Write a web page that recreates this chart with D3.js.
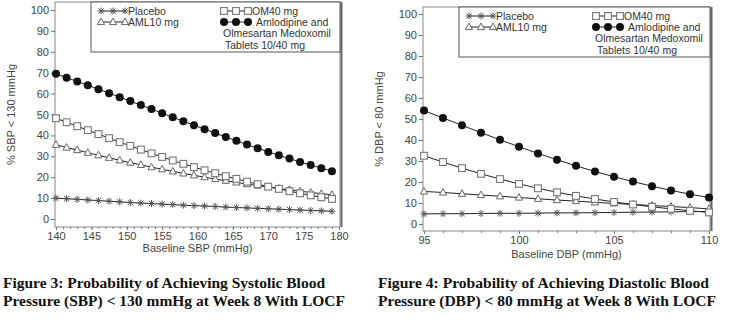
<!DOCTYPE html>
<meta charset="utf-8">
<style>
body { margin: 0; background: #fff; }
svg text { font-family: Arial, "Liberation Sans", sans-serif; }
.tick text { fill: #444; font-size: 11px; }
.axis path, .axis line { stroke: #777; }
.caption { font-family: "Liberation Serif", "Times New Roman", serif !important; font-weight: bold; font-size: 15px; fill: #111; }
</style>
<body>
<svg width="752" height="335"></svg>
<script src="https://d3js.org/d3.v7.min.js"></script>
<script>

// systolic panel: baseline SBP every 1.5 mmHg
var sbpX = d3.range(27).map(function(i) { return 140 + i * 1.5; });
var sbpPlacebo = [10.0, 9.7, 9.4, 9.1, 8.8, 8.5, 8.2, 7.9, 7.6, 7.4, 7.1, 6.9, 6.6, 6.4, 6.2, 6.0, 5.7, 5.5, 5.3, 5.1, 4.9, 4.7, 4.5, 4.3, 4.1, 3.9, 3.7];
var sbpOM40 = [48.2, 46.3, 44.4, 42.5, 40.6, 38.7, 36.8, 35.0, 33.2, 31.4, 29.7, 28.0, 26.4, 24.8, 23.3, 21.9, 20.5, 19.2, 17.9, 16.7, 15.5, 14.4, 13.3, 12.3, 11.3, 10.4, 9.6];
var sbpAML10 = [35.5, 34.2, 33.0, 31.7, 30.5, 29.3, 28.1, 27.0, 25.9, 24.8, 23.8, 22.8, 21.8, 20.9, 20.0, 19.1, 18.3, 17.5, 16.7, 16.0, 15.3, 14.6, 14.0, 13.3, 12.7, 12.1, 11.6];
var sbpCombo = [69.5, 67.6, 65.8, 64.0, 62.1, 60.2, 58.3, 56.4, 54.5, 52.6, 50.6, 48.7, 46.8, 44.9, 43.0, 41.1, 39.2, 37.4, 35.6, 33.9, 32.1, 30.5, 28.9, 27.3, 25.8, 24.3, 22.9];
var sbpTicks = [140, 145, 150, 155, 160, 165, 170, 175, 180];

// diastolic panel: baseline DBP every 1 mmHg
var dbpX = d3.range(95, 111);
var dbpPlacebo = [4.8, 4.9, 4.9, 5.0, 5.1, 5.1, 5.2, 5.3, 5.3, 5.4, 5.5, 5.6, 5.7, 5.8, 5.9, 6.0];
var dbpOM40 = [32.5, 29.5, 26.6, 23.9, 21.4, 19.1, 17.0, 15.1, 13.4, 11.9, 10.5, 9.3, 8.2, 7.2, 6.3, 5.5];
var dbpAML10 = [15.5, 15.0, 14.4, 13.8, 13.2, 12.6, 12.0, 11.4, 10.9, 10.3, 9.8, 9.3, 8.8, 8.3, 7.8, 7.2];
var dbpCombo = [54.0, 50.5, 47.0, 43.5, 40.1, 36.8, 33.6, 30.6, 27.7, 25.0, 22.5, 20.2, 18.0, 16.0, 14.2, 12.6];
var dbpTicks = [95, 100, 105, 110];

var yTicks = d3.range(0, 101, 10);

var svg = d3.select("svg");

function marker(g, type, x, y) {
  if (type == "circle") {
    g.append("circle").attr("cx", x).attr("cy", y).attr("r", 4).attr("fill", "#111");
  } else if (type == "square") {
    g.append("rect").attr("x", x - 3.4).attr("y", y - 3.4).attr("width", 6.8).attr("height", 6.8)
        .attr("fill", "#fff").attr("stroke", "#777").attr("stroke-width", 1.1);
  } else if (type == "triangle") {
    g.append("path").attr("d", "M" + x + "," + (y - 4) + "L" + (x + 3.6) + "," + (y + 2.6) + "L" + (x - 3.6) + "," + (y + 2.6) + "Z")
        .attr("fill", "#fff").attr("stroke", "#666").attr("stroke-width", 1);
  } else {
    g.append("path").attr("d", "M" + (x - 3.5) + "," + y + "H" + (x + 3.5) +
        "M" + x + "," + (y - 3.5) + "V" + (y + 3.5) +
        "M" + (x - 2.6) + "," + (y - 2.6) + "L" + (x + 2.6) + "," + (y + 2.6) +
        "M" + (x - 2.6) + "," + (y + 2.6) + "L" + (x + 2.6) + "," + (y - 2.6))
        .attr("stroke", "#555").attr("stroke-width", 1);
  }
}

function panel(p) {
  var x = d3.scaleLinear().domain(p.xDomain).range([p.left + 1, p.right - 1]);
  var y = d3.scaleLinear().domain([0, 100]).range([p.y0, p.y100]);
  var g = svg.append("g");

  // frame with a shadow on the right
  g.append("rect").attr("x", p.left).attr("y", p.top).attr("width", p.right - p.left).attr("height", p.bottom - p.top)
      .attr("fill", "none").attr("stroke", "#888");
  g.append("line").attr("x1", p.right + 1.5).attr("x2", p.right + 1.5).attr("y1", p.top).attr("y2", p.bottom)
      .attr("stroke", "#666").attr("stroke-width", 2);

  g.append("g").attr("class", "axis")
      .attr("transform", "translate(0," + p.bottom + ")")
      .call(d3.axisBottom(x).tickValues(d3.range(p.xDomain[0], p.xDomain[1] + 1)).tickSize(2).tickFormat(""))
      .call(function(a) { a.select(".domain").remove(); });
  g.append("g").attr("class", "axis")
      .attr("transform", "translate(0," + p.bottom + ")")
      .call(d3.axisBottom(x).tickValues(p.xTicks).tickSize(3).tickPadding(2))
      .call(function(a) { a.select(".domain").remove(); });
  g.append("g").attr("class", "axis")
      .attr("transform", "translate(" + p.left + ",0)")
      .call(d3.axisLeft(y).tickValues(yTicks).tickSize(4).tickPadding(2))
      .call(function(a) { a.select(".domain").remove(); });

  g.append("text").attr("x", (p.left + p.right) / 2).attr("y", p.bottom + p.titleDy)
      .attr("text-anchor", "middle").attr("font-size", 11).attr("fill", "#444").text(p.xTitle);
  g.append("text").attr("transform", "translate(" + (p.left - 40) + "," + (p.y0 + p.y100) / 2 + ") rotate(-90)")
      .attr("text-anchor", "middle").attr("font-size", 11).attr("fill", "#444").text(p.yTitle);

  var line = d3.line().x(function(d) { return x(d[0]); }).y(function(d) { return y(d[1]); });
  p.series.forEach(function(s) {
    var pts = p.xs.map(function(v, i) { return [v, s.values[i]]; });
    g.append("path").datum(pts).attr("d", line).attr("fill", "none").attr("stroke", "#222").attr("stroke-width", 1);
    pts.forEach(function(d) { marker(g, s.type, x(d[0]), y(d[1])); });
  });

  // legend
  var L = p.legend;
  g.append("rect").attr("x", L.x).attr("y", L.y).attr("width", p.right - L.x).attr("height", L.h)
      .attr("fill", "#fff").attr("stroke", "#555");
  function key(type, kx, ky) {
    g.append("line").attr("x1", kx).attr("x2", kx + 24).attr("y1", ky).attr("y2", ky).attr("stroke", "#222");
    [0, 12, 24].forEach(function(o) { marker(g, type, kx + o, ky); });
  }
  key("star", L.x + 10, L.y + 9);
  key("triangle", L.x + 10, L.y + 20);
  key("square", L.c2, L.y + 9);
  key("circle", L.c2, L.y + 20);
  var t = [["Placebo", L.x + 37, 12.5], ["AML10 mg", L.x + 37, 23.5], ["OM40 mg", L.c2 + 28, 12.5],
           ["Amlodipine and", L.c2 + 32, 23.5], ["Olmesartan Medoxomil", L.c2 - 1, 35], ["Tablets 10/40 mg", L.c2 + 1, 46.5]];
  t.forEach(function(d) {
    g.append("text").attr("x", d[1]).attr("y", L.y + d[2]).attr("font-size", 10.5).attr("fill", "#333").text(d[0]);
  });

  p.caption.forEach(function(c, i) {
    g.append("text").attr("class", "caption").attr("x", p.capX).attr("y", 288 + i * 18)
        .attr("textLength", c[1]).attr("lengthAdjust", "spacingAndGlyphs").text(c[0]);
  });
}

panel({
  left: 55, right: 340, top: 2, bottom: 227, y0: 219, y100: 10, titleDy: 25,
  xDomain: [140, 180], xTicks: sbpTicks, xs: sbpX,
  xTitle: "Baseline SBP (mmHg)", yTitle: "% SBP < 130 mmHg",
  series: [
    { type: "star", values: sbpPlacebo },
    { type: "triangle", values: sbpAML10 },
    { type: "square", values: sbpOM40 },
    { type: "circle", values: sbpCombo }
  ],
  legend: { x: 91, y: 2, h: 50, c2: 224 },
  capX: 3,
  caption: [["Figure 3: Probability of Achieving Systolic Blood", 322],
            ["Pressure (SBP) < 130 mmHg at Week 8 With LOCF", 342]]
});

panel({
  left: 423, right: 710, top: 7, bottom: 231, y0: 224, y100: 14, titleDy: 27,
  xDomain: [95, 110], xTicks: dbpTicks, xs: dbpX,
  xTitle: "Baseline DBP (mmHg)", yTitle: "% DBP < 80 mmHg",
  series: [
    { type: "star", values: dbpPlacebo },
    { type: "triangle", values: dbpAML10 },
    { type: "square", values: dbpOM40 },
    { type: "circle", values: dbpCombo }
  ],
  legend: { x: 459, y: 7, h: 50, c2: 596 },
  capX: 378,
  caption: [["Figure 4: Probability of Achieving Diastolic Blood", 331],
            ["Pressure (DBP) < 80 mmHg at Week 8 With LOCF", 338]]
});

</script>
</body>
